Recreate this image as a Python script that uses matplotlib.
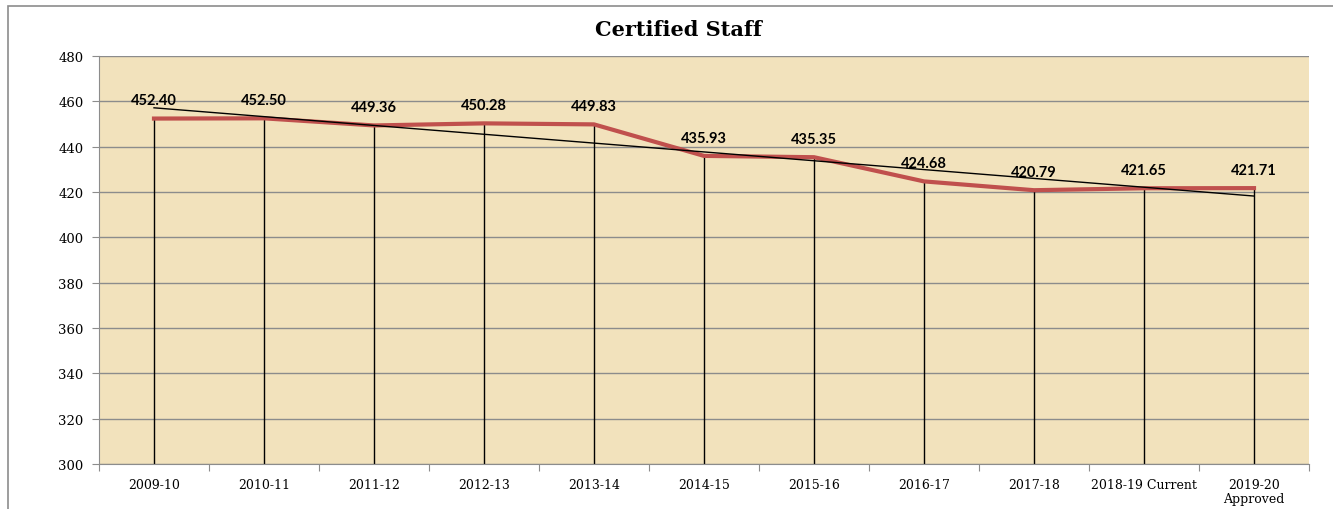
import numpy as np
import matplotlib.pyplot as plt
from matplotlib.patches import Rectangle

years = ['2009-10', '2010-11', '2011-12', '2012-13', '2013-14', '2014-15',
         '2015-16', '2016-17', '2017-18', '2018-19 Current', '2019-20\nApproved']
staff = [452.40, 452.50, 449.36, 450.28, 449.83, 435.93,
         435.35, 424.68, 420.79, 421.65, 421.71]
y_ticks = list(range(300, 481, 20))

serif = ['DejaVu Serif']

fig = plt.figure(figsize=(13.33, 5.10), dpi=100)
fig.patches.append(Rectangle((8 / 1333, -0.1), 1.2, 1 - 7 / 510 + 0.1,
                             transform=fig.transFigure, fill=False,
                             edgecolor='#8c8c8c', linewidth=1.2))
ax = fig.add_axes([99 / 1333, 1 - 465 / 510, 1210 / 1333, 408 / 510])
ax.set_facecolor('#f2e2bc')

x = np.arange(len(years))
ax.set_xlim(-0.5, len(years) - 0.5)
ax.set_ylim(300, 480)

# grid
ax.set_yticks(y_ticks)
ax.yaxis.grid(True, color='#8c8c8c', linewidth=1)
ax.set_axisbelow(True)

# drop lines
ax.vlines(x, 300, staff, color='black', linewidth=1, zorder=2)

# linear trend
k, b = np.polyfit(x, staff, 1)
ax.plot(x, k * x + b, color='black', linewidth=1, zorder=4)

# series
ax.plot(x, staff, color='#c0504d', linewidth=3, zorder=3)

for xi, v in zip(x, staff):
    ax.annotate(f'{v:.2f}', (xi, v), xytext=(0, 8), textcoords='offset points',
                ha='center', va='bottom', fontsize=10.5, fontweight='bold',
                family=['Lato', 'DejaVu Sans'], zorder=5)

for s in ['top', 'right']:
    ax.spines[s].set_visible(False)
for s in ['left', 'bottom']:
    ax.spines[s].set_color('#8c8c8c')

ax.set_xticks(np.arange(-0.5, len(years), 1.0))
ax.set_xticklabels([])
ax.set_xticks(x, minor=True)
ax.set_xticklabels(years, minor=True, family=serif, fontsize=9,
                   linespacing=1.1)
ax.tick_params(axis='x', which='major', length=5, color='#8c8c8c')
ax.tick_params(axis='x', which='minor', length=0, pad=10)
ax.tick_params(axis='y', length=5, color='#8c8c8c', labelsize=9.5, pad=6)
for lbl in ax.get_yticklabels():
    lbl.set_family(serif)

fig.text(678 / 1333, 1 - 30 / 510, 'Certified Staff', ha='center', va='center',
         fontsize=15, fontweight='bold', family=serif)

fig.savefig('out.png', dpi=100)
